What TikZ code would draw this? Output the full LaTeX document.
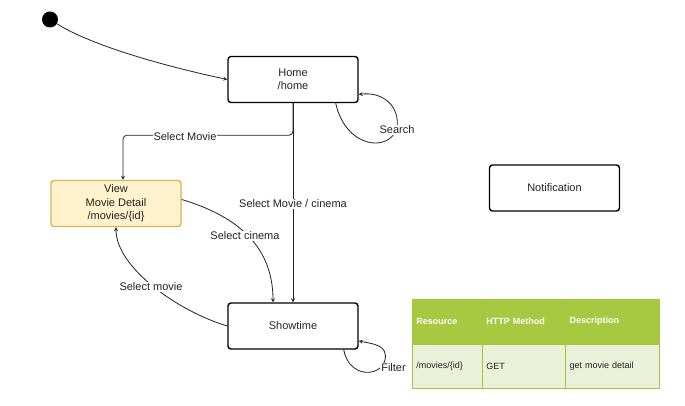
\documentclass[tikz,border=0pt]{standalone}
\usepackage{fontspec}
\setmainfont{Liberation Sans}
\usepackage{tikz}
\usetikzlibrary{arrows}
\definecolor{ink}{HTML}{222222}
\definecolor{viewFill}{HTML}{FFF2CC}
\definecolor{viewLine}{HTML}{D6B656}
\definecolor{tblHead}{HTML}{A8C842}
\definecolor{tblRow}{HTML}{EAF1D8}
\definecolor{tblLine}{HTML}{9FC63E}
\tikzstyle{edge}=[->, >=stealth, line width=0.8pt, draw=ink]
\tikzstyle{stateV}=[rectangle, rounded corners=3pt, draw=black, line width=1.4pt, minimum width=130pt, minimum height=46pt, align=center, inner sep=0pt, text=ink, font=\fontsize{11}{13.5}\selectfont]
\tikzstyle{viewV}=[stateV, fill=viewFill, draw=viewLine]
\tikzstyle{initV}=[circle, fill=black, minimum size=16pt, inner sep=0pt, outer sep=0pt]
\tikzstyle{lbl}=[fill=white, inner sep=1pt, text=ink, font=\fontsize{11}{13}\selectfont]
\tikzstyle{headC}=[rectangle, anchor=north west, draw=tblLine, line width=1pt, fill=tblHead, text=white, minimum height=44.7pt, inner xsep=4pt, inner ysep=0pt, outer sep=0pt, align=left, font=\fontsize{9}{11}\selectfont\bfseries]
\tikzstyle{rowC}=[headC, fill=tblRow, text=ink, font=\fontsize{9}{11}\selectfont]

\begin{document}
\begin{tikzpicture}[x=1pt, y=-1pt]
    \useasboundingbox (0,0) rectangle (685,406);

    %%%%%  Estados  %%%%%
    \node (init) [initV] at (50,19.5) {};
    \node (home) [stateV] at (293,79.5) {Home\\/home};
    \node (view) [viewV] at (116,203.5) {View\\Movie Detail\\/movies/\{id\}};
    \node (showtime) [stateV] at (293,326) {Showtime};
    \node (notif) [stateV] at (554.5,188) {Notification};

    %%%%%  Transiciones  %%%%%
    \coordinate (mv) at ([xshift=7pt]view.north);
    \draw [edge] (init) .. controls +(40,25) and +(-70,-15) .. (home.west);
    \draw [edge, rounded corners=4pt] (home.south) -- ++(0,32) -| (mv);
    \draw [edge] (home.south) -- (showtime.north);
    \draw [edge] ([yshift=4pt]view.east) .. controls +(50,15) and +(0,-60) .. ([xshift=-20pt]showtime.north);
    \draw [edge] (showtime.west) .. controls +(-50,-15) and +(0,40) .. (view.south);

    %%%%%  Bucles  %%%%%
    \draw [edge] ([xshift=-23pt]home.south east) .. controls +(10,45) and +(-8,25) .. (397,128)
        .. controls +(3,-23) and +(23,-3) .. ([yshift=-15pt]home.east);
    \draw [edge] ([xshift=-15pt]showtime.south east) .. controls +(5,28) and +(-5,18) .. (385,360)
        .. controls +(3,-15) and +(15,3) .. ([yshift=-15pt]showtime.east);

    %%%%%  Etiquetas  %%%%%
    \node (lblMovie) [lbl] at (185,137) {Select Movie};
    \node (lblBoth) [lbl] at (293,204) {Select Movie / cinema};
    \node (lblCinema) [lbl] at (245,236) {Select cinema};
    \node (lblMovieB) [lbl] at (151,287) {Select movie};
    \node (lblSearch) [lbl] at (397,130) {Search};
    \node (lblFilter) [lbl] at (393.5,368) {Filter};

    %%%%%  Tabla  %%%%%
    \node (tRes) [headC, text width=62pt] at (412.3,299.3) {Resource};
    \node (tMet) [headC, text width=75.4pt] at (tRes.north east) {HTTP Method};
    \node (tDes) [headC, text width=85.3pt] at (tMet.north east) {Description};
    \node (vRes) [rowC, text width=62pt] at (tRes.south west) {/movies/\{id\}};
    \node (vMet) [rowC, text width=75.4pt] at (tMet.south west) {GET};
    \node (vDes) [rowC, text width=85.3pt] at (tDes.south west) {get movie detail};
\end{tikzpicture}
\end{document}
